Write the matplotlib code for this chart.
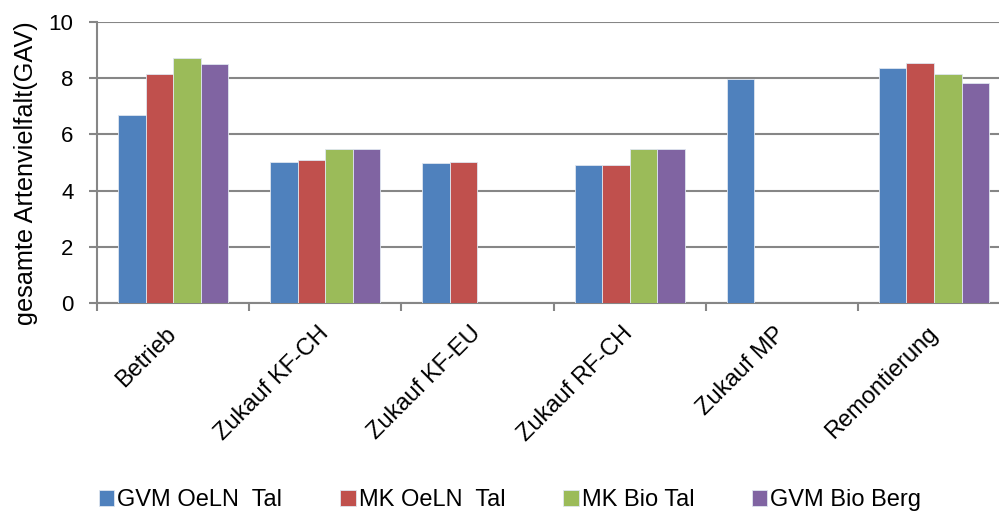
import numpy as np
import matplotlib.pyplot as plt

categories = ["Betrieb", "Zukauf KF-CH", "Zukauf KF-EU", "Zukauf RF-CH", "Zukauf MP", "Remontierung"]
series_names = ["GVM OeLN  Tal", "MK OeLN  Tal", "MK Bio Tal", "GVM Bio Berg"]
gvm_oeln_tal = [6.69, 5.03, 4.97, 4.90, 7.97, 8.36]
mk_oeln_tal = [8.17, 5.08, 5.03, 4.90, np.nan, 8.56]
mk_bio_tal = [8.71, 5.49, np.nan, 5.49, np.nan, 8.17]
gvm_bio_berg = [8.50, 5.49, np.nan, 5.49, np.nan, 7.84]
colors = ["#4F81BD", "#C0504D", "#9BBB59", "#8064A2"]

plt.rcParams["font.family"] = ["Liberation Sans", "DejaVu Sans"]

grey = "#868686"
fig = plt.figure(figsize=(9.99, 5.13), dpi=100)
ax = fig.add_axes([0.0971, 0.410, 0.914, 0.5465])

x = np.arange(len(categories))
w = 0.181
all_series = [gvm_oeln_tal, mk_oeln_tal, mk_bio_tal, gvm_bio_berg]
bars = []
for i, vals in enumerate(all_series):
    b = ax.bar(x + (i - 1.5) * w, vals, w, color=colors[i], edgecolor="#dfe6f0",
               linewidth=0.6, zorder=3, label=series_names[i])
    bars.append(b)

ax.set_xlim(-0.5, len(categories) - 0.5)
ax.set_ylim(0, 10)
ax.set_yticks(range(0, 11, 2))
ax.yaxis.grid(True, color=grey, linewidth=1.5, zorder=0)
ax.set_axisbelow(True)
for s in ["top", "right"]:
    ax.spines[s].set_visible(False)
for s in ["left", "bottom"]:
    ax.spines[s].set_color(grey)
    ax.spines[s].set_linewidth(1.5)

ax.tick_params(axis="y", length=6, width=1.5, color=grey, labelsize=16, pad=11)

# category names under each group, tick marks on the group borders
ax.set_xticks(x)
ax.set_xticklabels(categories, rotation=45, ha="right", va="center",
                   rotation_mode="anchor", fontsize=17)
ax.tick_params(axis="x", which="major", length=0, pad=20)
ax.set_xticks(np.arange(-0.5, len(categories)), minor=True)
ax.tick_params(axis="x", which="minor", length=6, width=1.5, color=grey)

ax.set_ylabel("gesamte Artenvielfalt(GAV)", fontsize=18.2)
ax.yaxis.set_label_coords(-0.0646, 0.463)

fig.legend(handles=bars, labels=series_names, loc="center left",
           bbox_to_anchor=(99 / 999, 13 / 513), ncol=4, frameon=False,
           borderpad=0, borderaxespad=0, handlelength=0.65, handleheight=0.65,
           handletextpad=0.13, columnspacing=2.45, prop={"size": 17})

fig.savefig("out.png", dpi=100)
